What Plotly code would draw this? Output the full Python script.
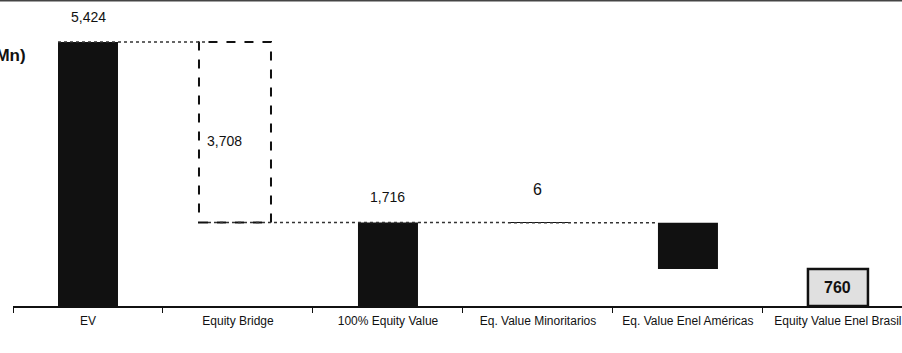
import plotly.graph_objects as go

categories = ["EV", "Equity Bridge", "100% Equity Value", "Eq. Value Minoritarios",
              "Eq. Value Enel Américas", "Equity Value Enel Brasil"]
measures = ["total", "relative", "total", "relative", "relative", "total"]
values = [5424, -3708, 1716, -6, -950, 760]
value_labels = ["5,424", "3,708", "1,716", "6", "", "760"]
y_title = "(US$ Mn)"

# running levels
bases, tops = [], []
level = 0
for m, v in zip(measures, values):
    if m == "total":
        b, t = 0, v
        level = v
    else:
        b, t = level + v, level
        level = level + v
    bases.append(b)
    tops.append(t)

FONT = "Liberation Sans, Arial, sans-serif"
solid_idx = [0, 2, 3, 4]

fig = go.Figure()
fig.add_trace(go.Bar(
    x=[categories[i] for i in solid_idx],
    y=[tops[i] - bases[i] for i in solid_idx],
    base=[bases[i] for i in solid_idx],
    width=0.4,
    marker=dict(color="#111111", line=dict(width=0)),
    hoverinfo="skip", showlegend=False,
))

shapes = []
# dashed bridge box
shapes.append(dict(type="rect", xref="x", yref="y", x0=1 - 0.26, x1=1 + 0.22,
                   y0=bases[1], y1=tops[1], line=dict(color="#111", width=2, dash="dash")))
# Brasil outlined box
shapes.append(dict(type="rect", xref="x", yref="y", x0=5 - 0.2, x1=5 + 0.2,
                   y0=bases[5], y1=tops[5], line=dict(color="#111", width=2.5),
                   fillcolor="rgba(0,0,0,0.12)"))
# connectors
conn = [(0, 1, tops[0]), (1, 2, bases[1]), (2, 3, tops[2]), (3, 4, tops[4])]
for a, b, yv in conn:
    shapes.append(dict(type="line", xref="x", yref="y", x0=a - 0.2, x1=b - 0.2,
                       y0=yv, y1=yv, line=dict(color="#333", width=1.5, dash="dot")))
# top border
shapes.append(dict(type="line", xref="paper", yref="paper", x0=-0.02, x1=1.0,
                   y0=0.998, y1=0.998, line=dict(color="#444", width=2)))

annotations = []
for i in [0, 2]:
    annotations.append(dict(x=categories[i], y=tops[i], text=value_labels[i], showarrow=False,
                            yshift=25, font=dict(family=FONT, size=14, color="#111")))
annotations.append(dict(x=categories[3], y=tops[3], text=value_labels[3], showarrow=False,
                        yshift=33, font=dict(family=FONT, size=16, color="#111")))
annotations.append(dict(x=1 - 0.09, y=(bases[1] + tops[1]) / 2, text=value_labels[1],
                        showarrow=False, yshift=-9, font=dict(family=FONT, size=14, color="#111")))
annotations.append(dict(x=5, y=(bases[5] + tops[5]) / 2, text="<b>" + value_labels[5] + "</b>",
                        showarrow=False, font=dict(family=FONT, size=16, color="#111")))
annotations.append(dict(xref="paper", yref="paper", x=0.0168, y=0.82, xanchor="right",
                        yanchor="middle", text="<b>" + y_title + "</b>", showarrow=False,
                        font=dict(family=FONT, size=17, color="#111")))

fig.update_layout(
    width=902, height=353,
    margin=dict(l=13, r=0, t=0, b=47, autoexpand=False),
    paper_bgcolor="white", plot_bgcolor="white",
    bargap=0.6,
    shapes=shapes, annotations=annotations,
    xaxis=dict(type="category", categoryorder="array", categoryarray=categories,
               range=[-0.5, 5.427], showline=True, linecolor="#111", linewidth=2,
               ticks="outside", tickson="boundaries", ticklen=5, tickcolor="#111",
               tickangle=0, automargin=False, ticklabelstandoff=3,
               showgrid=False, tickfont=dict(family=FONT, size=12, color="#111")),
    yaxis=dict(range=[0, 6287], visible=False, showgrid=False, automargin=False),
)

fig.write_html("out.html", config={"displayModeBar": False},
               post_script="document.body.style.margin='0';")
